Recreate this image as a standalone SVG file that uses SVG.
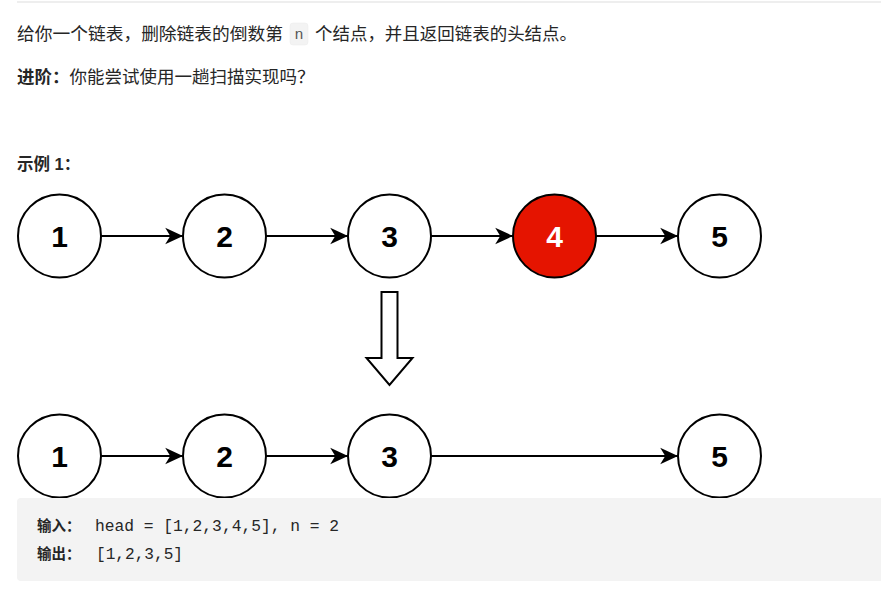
<svg xmlns="http://www.w3.org/2000/svg" width="881" height="595" viewBox="0 0 881 595">
<defs>
<style>
.t{font-family:"Liberation Sans","Noto Sans CJK SC",sans-serif;fill:#262626}
.b{font-weight:bold}
.node circle{fill:#fff;stroke:#000;stroke-width:2}
.node text{font-family:"Liberation Sans",Arial,sans-serif;font-weight:bold;font-size:30px;fill:#000;text-anchor:middle}
.node.del circle{fill:#e51400}
.node.del text{fill:#fff}
.edge{stroke:#000;stroke-width:2;fill:none;marker-end:url(#ah)}
.mono{font-family:"Liberation Mono","DejaVu Sans Mono","Noto Sans CJK SC",monospace;fill:#262626}
</style>
<marker id="ah" markerUnits="userSpaceOnUse" markerWidth="20" markerHeight="20" viewBox="-17 -8 18 16" refX="0" refY="0" orient="auto">
<path d="M0,0 L-16,-7.5 L-11.5,0 L-16,7.5 Z" fill="#000"/>
</marker>
</defs>
<rect width="881" height="595" fill="#fff"/>
<line x1="17" y1="2" x2="881" y2="2" stroke="#e8e8e8" stroke-width="1.5"/>
<g id="text-top">
<text class="t" x="17" y="40" font-size="17.5" textLength="266" lengthAdjust="spacingAndGlyphs">给你一个链表，删除链表的倒数第</text>
<rect x="290" y="23" width="18" height="22" rx="3" fill="#f3f3f3" stroke="#ebebeb" stroke-width="0.5"/>
<text class="mono" x="299" y="39" font-size="15" text-anchor="middle" style="fill:#555">n</text>
<text class="t" x="315" y="40" font-size="17.5" textLength="262" lengthAdjust="spacingAndGlyphs">个结点，并且返回链表的头结点。</text>
<text class="t" x="17" y="83" font-size="17.5"><tspan class="b">进阶：</tspan>你能尝试使用一趟扫描实现吗？</text>
<text class="t b" x="17" y="170" font-size="16.5">示例 1：</text>
</g>
<g id="connectors">
<line class="edge" x1="101" y1="236" x2="183" y2="236"/>
<line class="edge" x1="266" y1="236" x2="348" y2="236"/>
<line class="edge" x1="431" y1="236" x2="513" y2="236"/>
<line class="edge" x1="596" y1="236" x2="678" y2="236"/>
<line class="edge" x1="101" y1="456" x2="183" y2="456"/>
<line class="edge" x1="266" y1="456" x2="348" y2="456"/>
<line class="edge" x1="431" y1="456" x2="678" y2="456"/>
</g>
<g id="n1" class="node"><circle cx="59.5" cy="236" r="41.5"/><text x="59.5" y="247">1</text></g>
<g id="n2" class="node"><circle cx="224.5" cy="236" r="41.5"/><text x="224.5" y="247">2</text></g>
<g id="n3" class="node"><circle cx="389.5" cy="236" r="41.5"/><text x="389.5" y="247">3</text></g>
<g id="n4" class="node del"><circle cx="554.5" cy="236" r="41.5"/><text x="554.5" y="247">4</text></g>
<g id="n5" class="node"><circle cx="719.5" cy="236" r="41.5"/><text x="719.5" y="247">5</text></g>
<g id="down-arrow">
<path d="M381.5,292 L397.5,292 L397.5,358 L412.5,358 L389.5,385 L366.5,358 L381.5,358 Z" fill="#fff" stroke="#000" stroke-width="2" stroke-linejoin="miter"/>
</g>
<g id="m1" class="node"><circle cx="59.5" cy="456" r="41.5"/><text x="59.5" y="467">1</text></g>
<g id="m2" class="node"><circle cx="224.5" cy="456" r="41.5"/><text x="224.5" y="467">2</text></g>
<g id="m3" class="node"><circle cx="389.5" cy="456" r="41.5"/><text x="389.5" y="467">3</text></g>
<g id="m5" class="node"><circle cx="719.5" cy="456" r="41.5"/><text x="719.5" y="467">5</text></g>
<g id="code">
<rect x="17" y="498" width="880" height="83" rx="4" fill="#f3f3f3"/>
<text class="t b" x="37" y="531" font-size="14.5">输入：</text>
<text class="mono" x="95" y="531" font-size="16" textLength="244" lengthAdjust="spacingAndGlyphs">head = [1,2,3,4,5], n = 2</text>
<text class="t b" x="37" y="559" font-size="14.5">输出：</text>
<text class="mono" x="96" y="559" font-size="16" textLength="87" lengthAdjust="spacingAndGlyphs">[1,2,3,5]</text>
</g>
</svg>
